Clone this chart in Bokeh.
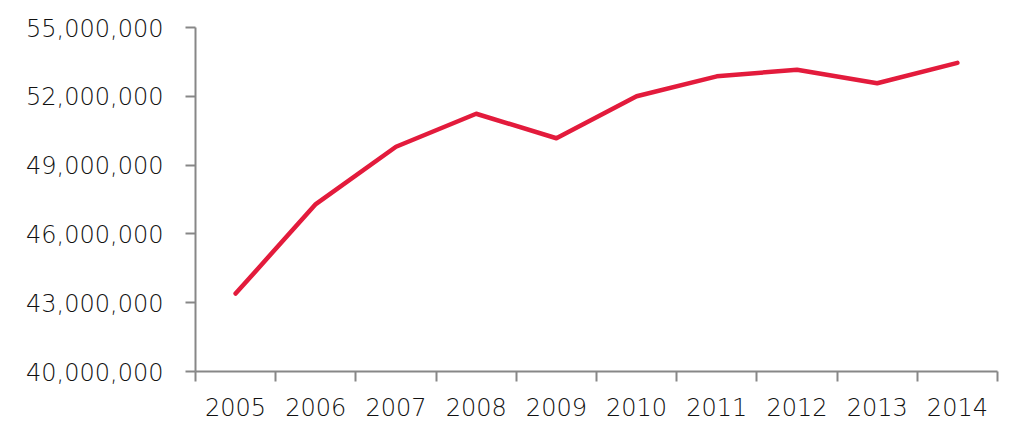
from bokeh.plotting import figure
from bokeh.models import FixedTicker, Range1d, NumeralTickFormatter, ColumnDataSource
from bokeh.embed import file_html
from bokeh.resources import INLINE

years = ["2005", "2006", "2007", "2008", "2009", "2010", "2011", "2012", "2013", "2014"]
values = [43400000, 47300000, 49800000, 51240000, 50170000, 52000000, 52870000, 53160000, 52570000, 53460000]
y_ticks = [40000000, 43000000, 46000000, 49000000, 52000000, 55000000]

xs = [i + 0.5 for i in range(len(years))]
src = ColumnDataSource(data=dict(x=xs, y=values, year=years))

p = figure(width=1011, height=429, output_backend="svg", toolbar_location=None,
           x_range=Range1d(0, len(years)), y_range=Range1d(40000000, 55000000),
           min_border_left=195, min_border_right=14, min_border_top=27, min_border_bottom=58)
p.outline_line_color = None
p.grid.visible = False
p.background_fill_color = "white"
p.border_fill_color = "white"

p.line("x", "y", source=src, line_color="#E31B3C", line_width=4.5, line_join="round", line_cap="round")

font = "'DejaVu Sans Light', 'DejaVu Sans'"
axis_color = "#878787"

xa = p.xaxis[0]
xa.ticker = FixedTicker(ticks=xs, minor_ticks=list(range(len(years) + 1)))
xa.major_label_overrides = {x: y for x, y in zip(xs, years)}
xa.major_tick_out = 0
xa.major_tick_in = 0
xa.minor_tick_out = 10
xa.minor_tick_in = 0
xa.minor_tick_line_color = axis_color
xa.minor_tick_line_width = 2
xa.axis_line_color = axis_color
xa.axis_line_width = 2
xa.major_label_standoff = 16
xa.major_label_text_font = font
xa.major_label_text_font_size = "24px"
xa.major_label_text_color = "#111111"

ya = p.yaxis[0]
ya.ticker = FixedTicker(ticks=y_ticks, minor_ticks=[])
ya.formatter = NumeralTickFormatter(format="0,0")
ya.major_tick_out = 10
ya.major_tick_in = 0
ya.minor_tick_out = 0
ya.minor_tick_in = 0
ya.major_tick_line_color = axis_color
ya.major_tick_line_width = 2
ya.axis_line_color = axis_color
ya.axis_line_width = 2
ya.major_label_standoff = 22
ya.major_label_text_font = font
ya.major_label_text_font_size = "24px"
ya.major_label_text_color = "#111111"

open("out.html", "w").write(file_html(p, INLINE))
